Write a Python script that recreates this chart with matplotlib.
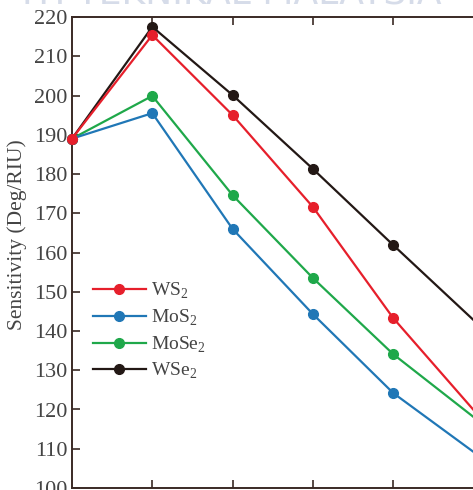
import matplotlib
matplotlib.use("Agg")
import matplotlib.pyplot as plt

# data
layers = [0, 1, 2, 3, 4, 5]
ws2 = [189, 215.4, 195.0, 171.6, 143.3, 119.9]
mos2 = [189, 195.5, 166.0, 144.3, 124.2, 109.2]
mose2 = [189, 199.9, 174.6, 153.5, 134.1, 118.1]
wse2 = [189, 217.5, 200.1, 181.3, 161.9, 142.8]
y_ticks = [100, 110, 120, 130, 140, 150, 160, 170, 180, 190, 200, 210, 220]

plt.rcParams['font.family'] = ['Liberation Serif', 'DejaVu Serif']
plt.rcParams['mathtext.fontset'] = 'custom'
plt.rcParams['mathtext.rm'] = 'Liberation Serif'

fig = plt.figure(figsize=(4.73, 4.90), dpi=100)
# the picture is a crop: the axes run past the right edge of the figure
ax_w = 6 * 80.3
ax = fig.add_axes([72 / 473, 2 / 490, ax_w / 473, 471 / 490])

series = [
    (wse2, 'WSe$_\\mathrm{2}$', '#231815', 3),
    (mose2, 'MoSe$_\\mathrm{2}$', '#1fa84a', 4),
    (mos2, 'MoS$_\\mathrm{2}$', '#2077b6', 5),
    (ws2, 'WS$_\\mathrm{2}$', '#e61f2b', 6),
]
handles = {}
for vals, name, col, z in series:
    ln, = ax.plot(layers, vals, color=col, lw=1.6, marker='o', ms=7,
                  markevery=slice(0, 5), zorder=z, clip_on=False, label=name)
    handles[name] = ln

ax.set_xlim(0, 6)
ax.set_ylim(100, 220)
ax.set_yticks(y_ticks)
ax.set_xticks([1, 2, 3, 4])
ax.tick_params(axis='x', direction='in', top=True, length=6, width=1.2,
               color='#3a2a25', labelbottom=False)
ax.tick_params(axis='y', direction='in', length=6, width=1.2,
               color='#3a2a25', labelsize=16, labelcolor='#444444', pad=3)
for s in ax.spines.values():
    s.set_color('#3a2a25')
    s.set_linewidth(1.4)
ax.set_ylabel('Sensitivity (Deg/RIU)', fontsize=15.5, color='#444444')
ax.yaxis.set_label_coords((27 - 72) / ax_w, (488 - 235) / 471)

order = ['WS$_\\mathrm{2}$', 'MoS$_\\mathrm{2}$', 'MoSe$_\\mathrm{2}$', 'WSe$_\\mathrm{2}$']
leg = ax.legend([handles[k] for k in order], order, loc='upper left',
                bbox_to_anchor=(21 / ax_w, (488 - 281) / 471), frameon=False,
                fontsize=14, handlelength=2.7, labelspacing=0.33,
                handletextpad=0.3, borderpad=0, borderaxespad=0)
for t in leg.get_texts():
    t.set_color('#444444')

# faint watermark strip at the top
fig.text(0.49, 0.992, 'ITI TEKNIKAL MALAYSIA', fontsize=26, color='#d6dce9',
         family='DejaVu Sans', ha='center', va='baseline', zorder=0)

fig.savefig('out.png', dpi=100)
